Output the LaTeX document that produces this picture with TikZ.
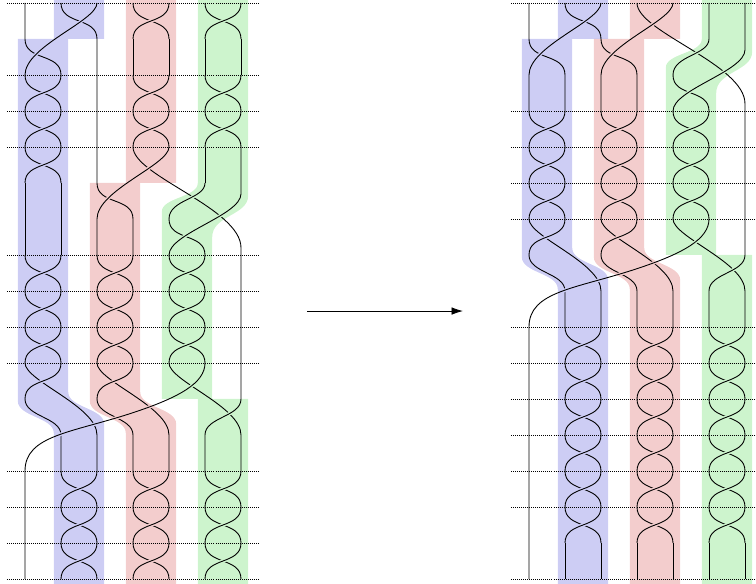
\documentclass[tikz,border=0pt]{standalone}
\usepackage{tikz}
\usetikzlibrary{arrows.meta}

\definecolor{bluebox}{RGB}{205,205,244}
\definecolor{pinkbox}{RGB}{243,205,205}
\definecolor{greenbox}{RGB}{205,244,205}

\tikzset{
  strand/.style={line width=0.7pt},
  overstrand/.style={line width=0.7pt, preaction={draw, white, line width=2.8pt}},
  level/.style={densely dotted, line width=0.6pt}
}

% strands #1 and #1+1 cross in row #2, the one going left on top
\newcommand{\twist}[2]{%
  \draw[strand] (#1,#2) .. controls (#1,#2+0.62) and (#1+1,#2+0.38) .. (#1+1,#2+1);
  \draw[overstrand] (#1+1,#2) .. controls (#1+1,#2+0.62) and (#1,#2+0.38) .. (#1,#2+1);}
% a strand sliding two places left / right, then straight down to row #4
\newcommand{\slantL}[4][strand]{%
  \draw[#1] (#2,#3) .. controls (#2,#3+0.5) and (#2-2,#3+1.2) .. (#2-2,#3+2) -- (#2-2,#4);}
\newcommand{\slantR}[4][strand]{%
  \draw[#1] (#2,#3) .. controls (#2,#3+0.5) and (#2+2,#3+1.2) .. (#2+2,#3+2) -- (#2+2,#4);}
% band of a pair: one place left from row #2, back round row #3
\newcommand{\band}[4]{%
  \fill[#4] (#1+1,-0.2) -- (#1+2.4,-0.2) -- (#1+2.4,#2) -- (#1+1.4,#2) -- (#1+1.4,#3-0.2)
    .. controls (#1+1.4,#3+0.25) and (#1+2.4,#3+0.25) .. (#1+2.4,#3+0.7) -- (#1+2.4,16.3)
    -- (#1+1,16.3) -- (#1+1,#3+0.95) .. controls (#1+1,#3+0.5) and (#1,#3+0.5) .. (#1,#3+0.05)
    -- (#1,#2) -- (#1+1,#2) -- cycle;}
% green band: slides left round row #1, back at row #2
\newcommand{\greenband}[2]{%
  \fill[greenbox] (5.8,-0.2) -- (7.2,-0.2) -- (7.2,#1+0.35)
    .. controls (7.2,#1+0.9) and (6.2,#1+0.9) .. (6.2,#1+1.5) -- (6.2,#2) -- (7.2,#2)
    -- (7.2,16.3) -- (5.8,16.3) -- (5.8,#2) -- (4.8,#2) -- (4.8,#1+0.8)
    .. controls (4.8,#1+0.4) and (5.8,#1+0.4) .. (5.8,#1) -- cycle;}

\begin{document}
\begin{tikzpicture}
  \useasboundingbox (0,0) rectangle (21,-16.2222);

  % left braid
  \begin{scope}[xshift=-0.3056cm, yshift=-0.0833cm, y=-1cm]
    \draw[strand] (1,0) -- (1,1) .. controls (1,1.62) and (2,1.38) .. (2,2);
    \draw[strand] (2,0) .. controls (2,0.62) and (3,0.38) .. (3,1) -- (3,5)
      .. controls (3,5.62) and (4,5.38) .. (4,6) -- (4,7);
    \slantL[overstrand]{3}{0}{2}
    \foreach \k in {2,3,4,7,8,9} {\twist{1}{\k}}
    \draw[strand] (1,5) -- (1,7) (2,5) -- (2,7);
    \twist{4}{0} \twist{4}{2} \twist{4}{3}
    \draw[strand] (4,1) -- (4,2) (5,1) -- (5,2);
    \twist{6}{0} \twist{6}{2} \twist{6}{3}
    \draw[strand] (6,1) -- (6,2) (7,1) -- (7,2) (6,4) -- (6,5);
    % under the green pair
    \draw[strand] (4,4) .. controls (4,4.8) and (7,5.7) .. (7,6.8) -- (7,11);
    \slantL[overstrand]{5}{4}{7}
    \draw[overstrand] (6,5) .. controls (6,5.45) and (5,5.45) .. (5,6);
    \draw[strand] (5,6) .. controls (5,6.62) and (6,6.38) .. (6,7);
    \draw[overstrand] (7,4) -- (7,5.3) .. controls (7,5.9) and (5,6.4) .. (5,7);
    \foreach \k in {7,8,9} {\twist{3}{\k} \twist{5}{\k}}
    % way out
    \slantR{1}{10}{13}
    \slantR{3}{10}{13}
    \slantR{5}{10}{13}
    \draw[overstrand] (2,10) .. controls (2,10.62) and (1,10.38) .. (1,11);
    \draw[overstrand] (4,10) .. controls (4,10.62) and (3,10.38) .. (3,11);
    \draw[strand] (1,11) .. controls (1,11.5) and (2,11.5) .. (2,12) -- (2,13);
    \draw[strand] (3,11) .. controls (3,11.5) and (4,11.5) .. (4,12) -- (4,13);
    \draw[overstrand] (7,11) .. controls (7,11.5) and (6,11.5) .. (6,12) -- (6,13);
    \foreach \k in {13,14,15} {\twist{2}{\k} \twist{4}{\k} \twist{6}{\k}}
    % over all of them
    \draw[overstrand] (6,10) .. controls (6,10.55) and (5.3,10.95) .. (4,11.38)
      .. controls (2.31,11.94) and (1,12) .. (1,13) -- (1,16);
    \begin{scope}[blend mode=multiply]
      \band{0.8}{1}{11}{bluebox}
      \band{2.8}{5}{11}{pinkbox}
      \greenband{5}{11}
    \end{scope}
    \foreach \k in {0,2,3,4,7,8,9,10,13,14,15,16} {\draw[level] (0.5,\k) -- (7.5,\k);}
  \end{scope}

  \coordinate (src) at (8.53,-8.64);
  \coordinate (dst) at (12.86,-8.64);
  \draw[-{Latex[length=9pt,width=6pt]}, line width=0.6pt] (src) -- (dst);

  % right braid
  \begin{scope}[xshift=13.6944cm, yshift=-0.0833cm, y=-1cm]
    \draw[strand] (1,0) -- (1,1) .. controls (1,1.62) and (2,1.38) .. (2,2) -- (2,3);
    \draw[strand] (2,0) .. controls (2,0.62) and (3,0.38) .. (3,1)
      .. controls (3,1.62) and (4,1.38) .. (4,2) -- (4,3);
    \draw[strand] (4,0) .. controls (4,0.8) and (7,1.7) .. (7,2.8) -- (7,7);
    \slantL[overstrand]{3}{0}{3}
    \slantL[overstrand]{5}{0}{3}
    \draw[overstrand] (6,0) -- (6,1) .. controls (6,1.45) and (5,1.45) .. (5,2);
    \draw[strand] (5,2) .. controls (5,2.62) and (6,2.38) .. (6,3);
    \draw[overstrand] (7,0) -- (7,1.3) .. controls (7,1.9) and (5,2.4) .. (5,3);
    \foreach \k in {3,4,5} {\twist{1}{\k} \twist{3}{\k} \twist{5}{\k}}
    % way out
    \slantR{1}{6}{9}
    \slantR{3}{6}{9}
    \slantR{5}{6}{9}
    \draw[overstrand] (2,6) .. controls (2,6.62) and (1,6.38) .. (1,7);
    \draw[overstrand] (4,6) .. controls (4,6.62) and (3,6.38) .. (3,7);
    \draw[strand] (1,7) .. controls (1,7.5) and (2,7.5) .. (2,8) -- (2,9);
    \draw[strand] (3,7) .. controls (3,7.5) and (4,7.5) .. (4,8) -- (4,9);
    \draw[overstrand] (7,7) .. controls (7,7.5) and (6,7.5) .. (6,8) -- (6,9);
    \foreach \k in {9,...,14} {\twist{2}{\k} \twist{4}{\k} \twist{6}{\k}}
    \draw[strand] (2,15) -- (2,16) (3,15) -- (3,16) (4,15) -- (4,16)
      (5,15) -- (5,16) (6,15) -- (6,16) (7,15) -- (7,16);
    % over all of them
    \draw[overstrand] (6,6) .. controls (6,6.55) and (5.3,6.95) .. (4,7.38)
      .. controls (2.31,7.94) and (1,8) .. (1,9) -- (1,16);
    \begin{scope}[blend mode=multiply]
      \band{0.8}{1}{7}{bluebox}
      \band{2.8}{1}{7}{pinkbox}
      \greenband{1}{7}
    \end{scope}
    \foreach \k in {0,3,4,5,6,9,10,11,12,13,14,16} {\draw[level] (0.5,\k) -- (7.5,\k);}
  \end{scope}
\end{tikzpicture}
\end{document}
